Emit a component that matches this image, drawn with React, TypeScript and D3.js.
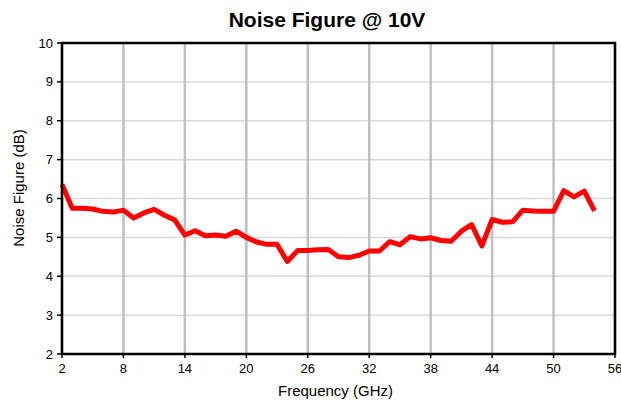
import React from "react";
import * as d3 from "d3";

const frequencies: number[] = [2,3,4,5,6,7,8,9,10,11,12,13,14,15,16,17,18,19,20,21,22,23,24,25,26,27,28,29,30,31,32,33,34,35,36,37,38,39,40,41,42,43,44,45,46,47,48,49,50,51,52,53,54];
const noiseFigure: number[] = [6.36,5.75,5.75,5.73,5.67,5.65,5.70,5.50,5.63,5.72,5.57,5.45,5.06,5.17,5.04,5.06,5.03,5.16,5.0,4.88,4.82,4.82,4.38,4.66,4.66,4.68,4.69,4.50,4.48,4.54,4.65,4.65,4.89,4.81,5.02,4.96,4.99,4.92,4.90,5.16,5.33,4.78,5.46,5.39,5.40,5.70,5.68,5.67,5.67,6.20,6.04,6.19,5.68];
const xTicks: number[] = [2, 8, 14, 20, 26, 32, 38, 44, 50, 56];
const yTicks: number[] = [2, 3, 4, 5, 6, 7, 8, 9, 10];
const title = "Noise Figure @ 10V";
const xTitle = "Frequency (GHz)";
const yTitle = "Noise Figure (dB)";

export default function App() {
  const W = 621, H = 402;
  const left = 62, right = 615, top = 43, bottom = 354;
  const x = d3.scaleLinear().domain([2, 56]).range([left, right]);
  const y = d3.scaleLinear().domain([2, 10]).range([bottom, top]);
  const line = d3.line<number>()
    .x((_, i) => x(frequencies[i]))
    .y((d) => y(d));
  const font = "Liberation Sans, Arial, sans-serif";
  return (
    <svg width={W} height={H} style={{ position: "absolute", left: 0, top: 0 }} fontFamily={font}>
      <rect x={0} y={0} width={W} height={H} fill="#ffffff" />
      {yTicks.map((t) => (
        <line key={"hy" + t} x1={left} x2={right} y1={y(t)} y2={y(t)} stroke="#d9d9d9" strokeWidth={1.5} />
      ))}
      {xTicks.map((t) => (
        <line key={"gx" + t} x1={x(t)} x2={x(t)} y1={top} y2={bottom} stroke="#c0c0c0" strokeWidth={2.5} />
      ))}
      {yTicks.map((t) => (
        <g key={"ty" + t}>
          <line x1={left - 5} x2={left} y1={y(t)} y2={y(t)} stroke="#000" strokeWidth={1.5} />
          <text x={left - 9} y={y(t)} dy="0.35em" textAnchor="end" fontSize={13} fill="#000">{t}</text>
        </g>
      ))}
      {xTicks.map((t) => (
        <g key={"tx" + t}>
          <line x1={x(t)} x2={x(t)} y1={bottom} y2={bottom + 4} stroke="#000" strokeWidth={1.5} />
          <text x={x(t)} y={bottom + 19} textAnchor="middle" fontSize={13} fill="#000">{t}</text>
        </g>
      ))}
      <path d={line(noiseFigure) || ""} fill="none" stroke="#ff0000" strokeWidth={5} strokeLinejoin="round" strokeLinecap="butt" />
      <rect x={left} y={top} width={right - left} height={bottom - top} fill="none" stroke="#000" strokeWidth={2.5} />
      <text x={327} y={27} textAnchor="middle" fontSize={21} fontWeight="bold" fill="#000">{title}</text>
      <text x={(left + right) / 2 - 3} y={396} textAnchor="middle" fontSize={15} fill="#000">{xTitle}</text>
      <text transform={`translate(24,188) rotate(-90)`} textAnchor="middle" fontSize={15} fill="#000">{yTitle}</text>
    </svg>
  );
}
